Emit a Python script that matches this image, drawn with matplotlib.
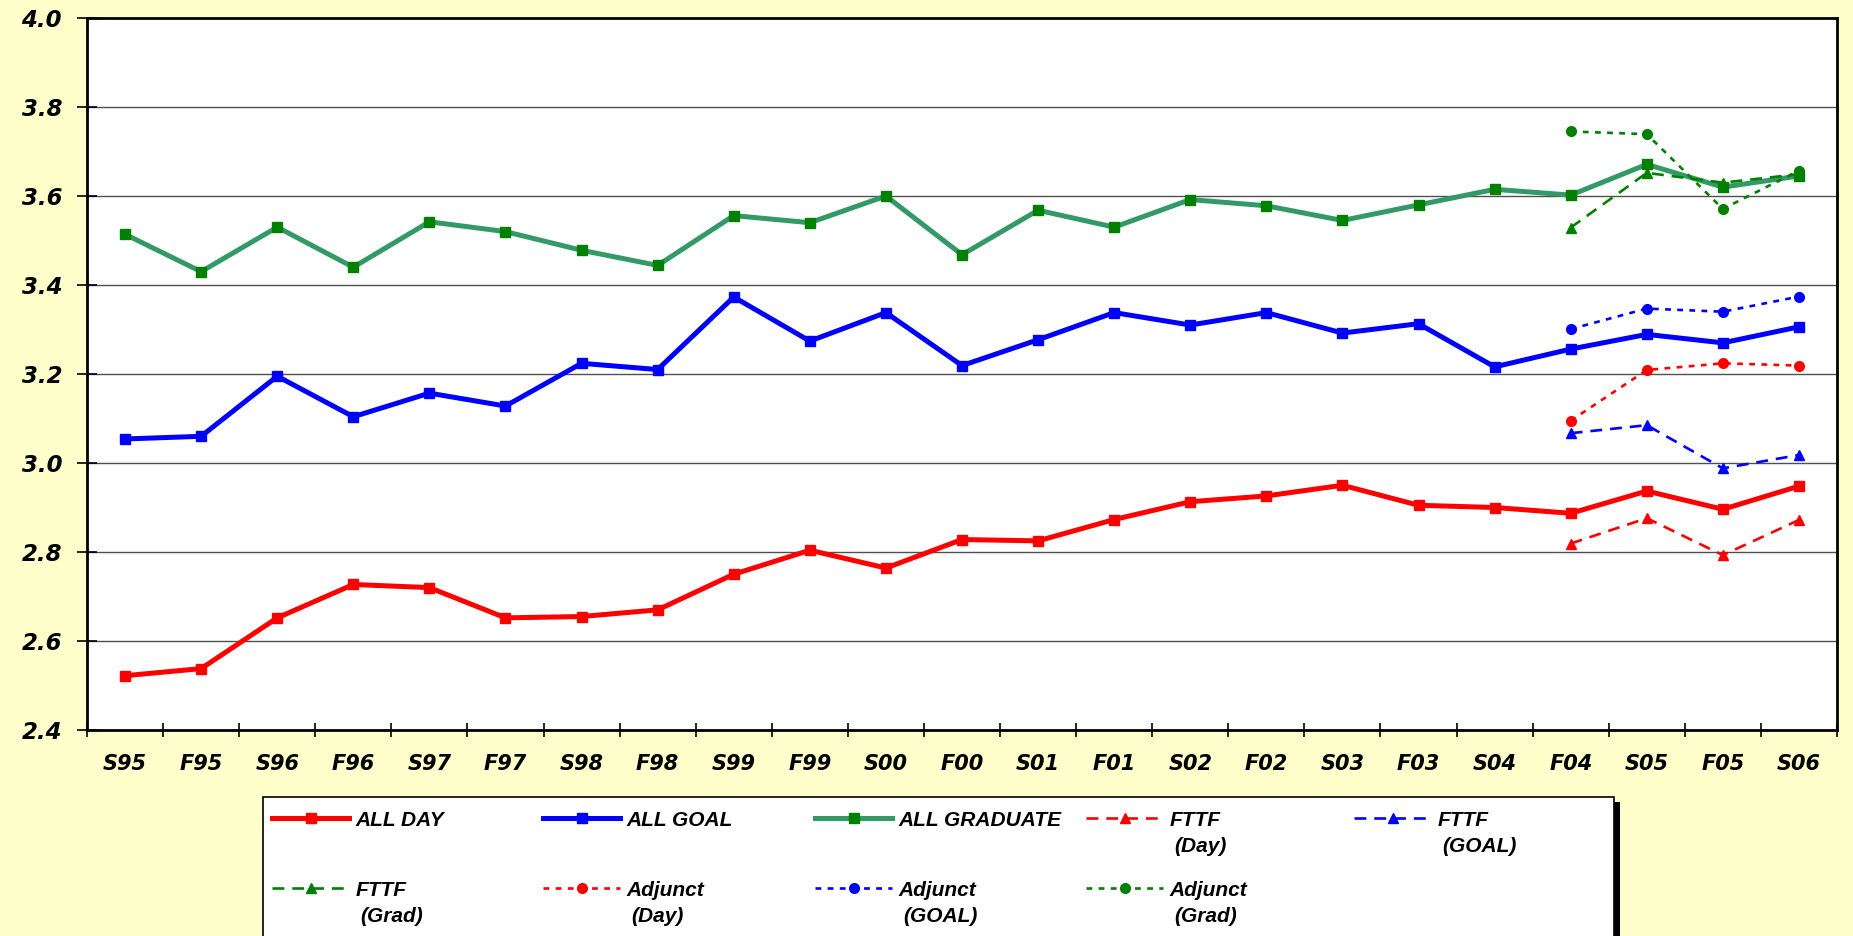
import numpy as np
import matplotlib.pyplot as plt
from matplotlib.patches import Rectangle

# terms on the x axis
terms = ["S95", "F95", "S96", "F96", "S97", "F97", "S98", "F98", "S99", "F99",
         "S00", "F00", "S01", "F01", "S02", "F02", "S03", "F03", "S04", "F04",
         "S05", "F05", "S06"]

all_day = [2.522, 2.538, 2.652, 2.727, 2.720, 2.652, 2.655, 2.670, 2.750, 2.804,
           2.764, 2.828, 2.825, 2.873, 2.913, 2.926, 2.950, 2.905, 2.900, 2.887,
           2.937, 2.896, 2.948]
all_goal = [3.054, 3.060, 3.195, 3.104, 3.157, 3.128, 3.224, 3.210, 3.373, 3.274,
            3.338, 3.219, 3.277, 3.338, 3.310, 3.338, 3.292, 3.313, 3.216, 3.256,
            3.289, 3.270, 3.306]
all_grad = [3.514, 3.430, 3.530, 3.440, 3.542, 3.520, 3.478, 3.444, 3.556, 3.540,
            3.600, 3.468, 3.568, 3.530, 3.592, 3.578, 3.545, 3.580, 3.615, 3.602,
            3.671, 3.620, 3.645]

# last four terms only (F04 .. S06)
recent = ["F04", "S05", "F05", "S06"]
fttf_day = [2.819, 2.876, 2.793, 2.872]
fttf_goal = [3.067, 3.085, 2.988, 3.018]
fttf_grad = [3.529, 3.652, 3.630, 3.649]
adj_day = [3.095, 3.209, 3.224, 3.219]
adj_goal = [3.301, 3.347, 3.340, 3.374]
adj_grad = [3.745, 3.739, 3.571, 3.657]

W, H = 1853, 936
fig = plt.figure(figsize=(W / 100, H / 100), dpi=100, facecolor="#FFFFCC")
ax = fig.add_axes([87 / W, 1 - 730 / H, (1837 - 87) / W, (730 - 18) / H])
ax.set_facecolor("white")

x = np.arange(len(terms))
xr = np.array([terms.index(t) for t in recent])

RED, BLUE, GREEN, SEA = "#FF0000", "#0000FF", "#008000", "#339966"

solid = dict(lw=3.6, marker="s", ms=7)
dash = dict(lw=1.9, marker="^", ms=7.5, dashes=(4.5, 3))
dot = dict(lw=1.9, marker="o", ms=7, dashes=(2.2, 2.4))

h_day, = ax.plot(x, all_day, color=RED, **solid)
h_goal, = ax.plot(x, all_goal, color=BLUE, **solid)
h_grad, = ax.plot(x, all_grad, color=SEA, mfc=GREEN, mec=GREEN, **solid)
h_fd, = ax.plot(xr, fttf_day, color=RED, **dash)
h_fgo, = ax.plot(xr, fttf_goal, color=BLUE, **dash)
h_fgr, = ax.plot(xr, fttf_grad, color=GREEN, **dash)
h_ad, = ax.plot(xr, adj_day, color=RED, **dot)
h_ago, = ax.plot(xr, adj_goal, color=BLUE, **dot)
h_agr, = ax.plot(xr, adj_grad, color=GREEN, **dot)

ax.set_xlim(-0.5, len(terms) - 0.5)
ax.set_ylim(2.4, 4.0)
yt = np.round(np.arange(2.4, 4.01, 0.2), 1)
ax.set_yticks(yt)
ax.set_yticklabels([f"{v:.1f}" for v in yt], fontsize=16.5, fontweight="bold",
                   fontstyle="italic", family="DejaVu Sans")
ax.yaxis.grid(True, color="#505050", lw=1)
ax.set_axisbelow(True)

ax.set_xticks(np.arange(-0.5, len(terms), 1))
ax.set_xticklabels([])
ax.set_xticks(x, minor=True)
ax.set_xticklabels(terms, minor=True, fontsize=15, fontweight="bold",
                   fontstyle="italic", family="DejaVu Sans")
ax.tick_params(axis="y", direction="inout", length=14, width=1.2, pad=11)
ax.tick_params(axis="x", which="major", direction="inout", length=10, width=1.2)
ax.tick_params(axis="x", which="minor", length=0, pad=17)
for s in ax.spines.values():
    s.set_linewidth(2)
    s.set_color("black")

# legend box with shadow
fig.patches.append(Rectangle((268 / W, -0.01), (1620 - 268) / W, 1 - 802 / H + 0.01,
                             transform=fig.transFigure, facecolor="black",
                             edgecolor="none", zorder=1))
fig.patches.append(Rectangle((263 / W, -0.01), (1614 - 263) / W, 1 - 797 / H + 0.01,
                             transform=fig.transFigure, facecolor="white",
                             edgecolor="black", lw=1.2, zorder=2))

entries = [
    (h_day, "ALL DAY", None), (h_goal, "ALL GOAL", None),
    (h_grad, "ALL GRADUATE", None), (h_fd, "FTTF", "(Day)"),
    (h_fgo, "FTTF", "(GOAL)"), (h_fgr, "FTTF", "(Grad)"),
    (h_ad, "Adjunct", "(Day)"), (h_ago, "Adjunct", "(GOAL)"),
    (h_agr, "Adjunct", "(Grad)"),
]
col_x = [272, 543, 815, 1086, 1354]
row_y = [820, 890]
lfont = dict(family="Liberation Sans", weight="bold", style="italic", size=15)
for i, (h, lab, sub) in enumerate(entries):
    lx = col_x[i % 5]
    cy = row_y[i // 5]
    leg = fig.legend([h], [lab], loc="center left",
                     bbox_to_anchor=(lx / W, 1 - cy / H),
                     frameon=False, borderpad=0, borderaxespad=0,
                     handlelength=3.7, handletextpad=0.3, numpoints=1,
                     prop=lfont)
    leg.set_zorder(5)
    if sub:
        fig.text((lx + 88) / W, 1 - (cy + 27) / H, sub, va="center", ha="left",
                 zorder=5, **lfont)

fig.savefig("out.png", dpi=100, facecolor=fig.get_facecolor())
